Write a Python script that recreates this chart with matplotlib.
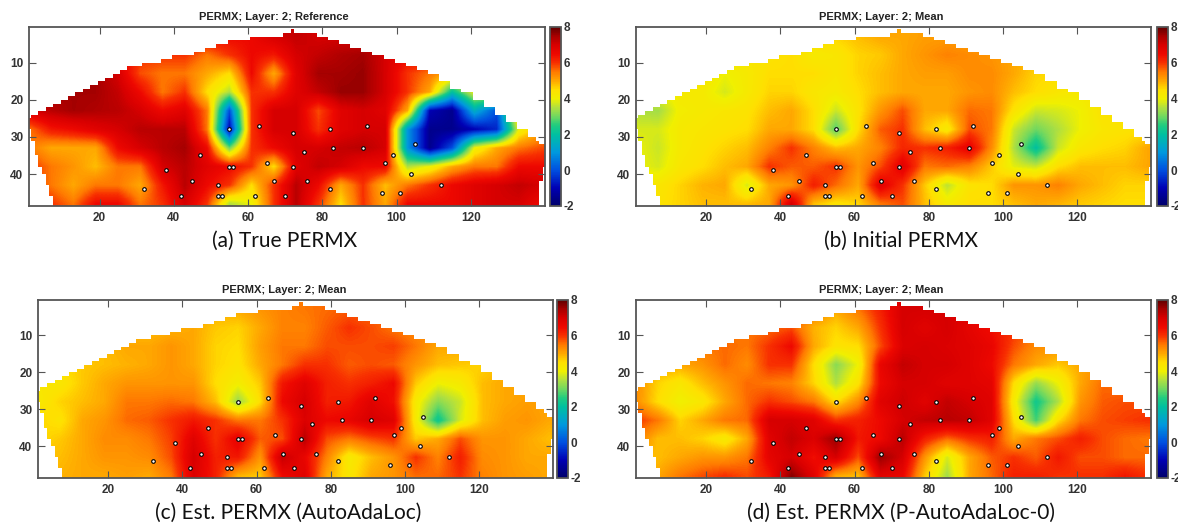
import numpy as np
import matplotlib
matplotlib.use("Agg")
import matplotlib.pyplot as plt
from matplotlib.colors import LinearSegmentedColormap
from matplotlib.patches import Polygon

plt.rcParams['font.family'] = ['Liberation Sans', 'DejaVu Sans']
plt.rcParams['axes.unicode_minus'] = False

W, H = 1178, 529

# grid nodes the permeability values were read at
grid_x = [1, 7, 13, 19, 25, 31, 37, 43, 49, 55, 61, 67, 73, 79, 85, 91, 97, 103, 109, 115, 121, 127, 133, 139]
grid_y = [3, 8, 13, 18, 23, 28, 33, 38, 43, 48]

permx_true = [
    [7, 7, 7, 7, 7, 7, 7, 7, 6.5, 6.5, 6.5, 7, 7.2, 7, 7, 7, 7, 7, 7, 7, 7, 7, 7, 7],
    [7, 7, 7, 7, 6.5, 6, 6, 6, 5.5, 6, 6.5, 6.3, 7, 7.2, 7.4, 7.5, 7, 6.5, 6.5, 6.5, 6.5, 6.5, 6.5, 6.5],
    [7.5, 7.5, 7.5, 7.5, 7, 5.8, 5.5, 5.5, 5, 4.5, 6.5, 5, 6.8, 7.5, 7.5, 7.6, 7, 6, 5.5, 5, 5, 5, 5, 5],
    [7.5, 7.5, 7.5, 7.5, 7.2, 6.5, 5.5, 6, 4.5, 3.5, 6, 6, 6.8, 7.2, 7.6, 7.6, 7, 6, 5, 2, 4, 4.5, 5, 5],
    [7, 7.3, 7.5, 7.4, 7.3, 7, 6.5, 6.8, 5.5, 0, 6, 7, 7, 5.8, 6.8, 7, 6.8, 5, -1, -1.5, 1.5, 0, 5, 5],
    [5.5, 6.3, 6.5, 6.8, 7, 7.3, 7.3, 7.3, 5.5, -1, 6, 7, 7, 6, 6.8, 7, 7, 1, -1.5, -1.5, -1, -0.5, 4, 5],
    [5.5, 5, 5, 5, 6.5, 7, 7.3, 7.5, 6.5, 3, 6, 6.5, 7, 7, 7.2, 7.3, 7, 1, -1.5, 0, 4, 5, 5.5, 5.8],
    [6, 5.5, 5.2, 4.8, 5.5, 5.5, 7, 7.3, 6.8, 6.5, 6, 4.5, 6.8, 7.2, 7, 6.5, 6.5, 3.5, 4, 5, 5.5, 5.5, 6.5, 6.5],
    [6, 5.5, 5, 5.5, 5.5, 5, 6.3, 7.3, 6.5, 6, 4.5, 6, 7.3, 6.5, 5, 6, 4.8, 5.5, 6, 6.5, 6.8, 7, 7.2, 7],
    [6, 6, 5.5, 6.5, 6.5, 5.5, 6, 7, 6, 3.5, 4, 6, 7.3, 6, 4.5, 6, 5, 6.5, 6.5, 6.5, 6.8, 7, 7, 6.5],
]
permx_initial = [
    [4.5, 4.5, 4.5, 4.5, 4.5, 4.5, 4.5, 4.5, 4.5, 4.6, 4.8, 5, 5, 5.1, 5.1, 5, 5, 5, 5, 5, 5, 5, 5, 5],
    [4.3, 4.3, 4.3, 4.3, 4.3, 4.3, 4.4, 4.5, 4.2, 4.3, 4.6, 4.7, 5, 5.2, 5.4, 5.3, 5.2, 5, 4.8, 4.8, 4.8, 4.8, 4.8, 4.8],
    [4.2, 4.2, 4.2, 4.3, 4, 4.2, 4.5, 4.5, 4.5, 4.3, 4.6, 4.8, 5, 5.1, 5.1, 5.3, 5.3, 5, 4.6, 4.5, 4.5, 4.5, 4.5, 4.5],
    [4, 4, 4.2, 4.2, 3.8, 4.2, 4.6, 4.6, 4.3, 4.2, 4.5, 4.8, 5, 5, 5, 5.2, 5.3, 4.8, 4.5, 4.3, 4.2, 4.3, 4.3, 4.3],
    [3.5, 3.4, 4.1, 4.2, 4.3, 4.4, 4.8, 5, 4.5, 3.7, 4.4, 5.2, 5.8, 5, 5, 5.6, 5.5, 4.4, 3.7, 3.8, 4, 4.4, 4.4, 4.4],
    [3.8, 3.8, 4.2, 4.3, 4.4, 4.5, 5, 5, 4.5, 2.8, 4.5, 5.7, 6, 4.8, 4.2, 5.8, 5.5, 3.7, 3, 3.5, 4, 4.3, 4.4, 4.4],
    [4, 3.7, 4.2, 4.4, 4.6, 4.8, 5.4, 6, 5.4, 4.8, 5, 5.4, 6.1, 6, 6.2, 6.7, 5.3, 3.5, 2, 3.7, 4.3, 4.5, 4.6, 5],
    [4, 3.8, 4.3, 4.5, 4.8, 5, 6, 5.7, 5.7, 6, 5.2, 5.8, 6.8, 5.5, 5.6, 5.4, 4.7, 3.9, 3.7, 4.5, 4.8, 4.8, 4.8, 5],
    [4.3, 4.3, 4.6, 4.9, 5, 3.8, 5, 5.2, 6.2, 5.6, 5, 6.8, 6, 4.7, 3.6, 4.4, 4.5, 5.2, 5.2, 5.4, 5, 4.8, 4.6, 4.6],
    [4.4, 4.4, 4.6, 4.8, 4.8, 4.8, 5, 7, 4.8, 4.4, 4.6, 5.5, 5.8, 4.8, 4.2, 4.5, 4.5, 4.8, 5, 4.9, 4.7, 4.6, 4.5, 4.5],
]
permx_ada = [
    [5, 5, 5, 5, 5, 5, 5, 5, 5, 5, 5.2, 5.4, 5.5, 5.6, 5.7, 5.6, 5.5, 5.5, 5.5, 5.5, 5.5, 5.5, 5.5, 5.5],
    [4.8, 4.8, 4.8, 4.8, 4.8, 4.8, 4.9, 5, 4.7, 4.6, 5, 5.4, 5.4, 5.7, 6, 5.8, 5.5, 5.3, 5.2, 5.2, 5.2, 5.2, 5.2, 5.2],
    [4.8, 4.8, 4.8, 4.8, 5, 5, 5.2, 5, 4.6, 4.5, 5.1, 5.5, 5.5, 5.8, 5.8, 5.8, 5.9, 5.5, 5, 5, 5, 5, 5, 5],
    [4.5, 4.5, 4.7, 4.8, 4.9, 5, 5.2, 5, 4.6, 4.4, 5, 5.5, 6, 6, 5.7, 5.8, 5.7, 5.2, 4.8, 4.7, 4.6, 4.8, 4.8, 4.8],
    [4.3, 4.3, 4.7, 5, 5.2, 5.2, 5.2, 5.2, 4.5, 4.1, 4.7, 6.3, 6.8, 6.2, 6, 6.2, 6.5, 4.7, 4, 4.2, 4.8, 5, 5, 5],
    [4.2, 4.6, 4.8, 5, 5.5, 5.5, 5.6, 5.5, 4.8, 3.3, 4.5, 6.5, 7, 6.2, 6.3, 6.8, 6.4, 4.2, 3.2, 3.7, 4.8, 5, 5.1, 5],
    [4.6, 4.4, 5, 5.2, 5.6, 5.7, 6, 6.3, 6, 5.5, 5.5, 6, 6.9, 6.5, 6.6, 7, 6.8, 4.2, 2.2, 3.8, 4.8, 5.1, 5.2, 5],
    [4.5, 4.7, 5, 5.3, 5.3, 5.5, 5.9, 6.8, 6, 6.7, 5.7, 5.8, 7.3, 5.8, 5.5, 5.8, 6, 4.7, 5, 5.8, 5.2, 5.2, 5, 4.8],
    [4.8, 4.8, 5, 5.2, 5.2, 5.3, 5.8, 7, 6.2, 6.3, 5.2, 7.2, 6.6, 5.4, 4.2, 4.8, 5.2, 6, 5.4, 6.2, 5.3, 5.2, 5, 5],
    [4.9, 4.9, 5, 5, 5.1, 5, 5.5, 6.9, 6.2, 4.9, 4.7, 6.5, 6.8, 5, 4.3, 5, 5.2, 5.6, 5.6, 6, 5.4, 5.2, 5.1, 5],
]
permx_p_ada = [
    [6, 6, 6, 6, 6, 6, 6, 6, 5.5, 5, 5.5, 6.2, 7, 7, 7, 6.8, 6.5, 6, 6, 6, 6, 6, 6, 6],
    [5.5, 5.5, 5.5, 5.5, 5.5, 5.5, 5.6, 5.8, 4.9, 4.6, 5, 6, 7, 6.8, 7, 6.7, 6.4, 6, 5.5, 5.5, 5.5, 5.5, 5.5, 5.5],
    [5.2, 5.2, 5.2, 5.5, 5.6, 5.5, 6, 6.5, 5, 4.4, 4.5, 5.8, 6.9, 7, 6.9, 6.8, 6.6, 5.8, 5.3, 5.2, 5.2, 5.2, 5.2, 5.2],
    [5, 5, 5, 5.2, 5.6, 5.3, 6, 6, 4.5, 3.2, 4, 6.6, 7.2, 7, 7, 6.8, 6.5, 5.5, 5, 4.7, 5, 5.2, 5.2, 5.2],
    [5.3, 4.6, 4.3, 4.8, 5.2, 5.6, 5.5, 5.4, 4.6, 3.5, 4.4, 6.5, 7, 7, 6.8, 6.8, 6.7, 4.5, 3.3, 4, 5, 5.6, 5.5, 5.5],
    [5.3, 4.5, 4, 4.3, 5, 5.6, 6, 5.8, 5.5, 4.5, 5.3, 6.8, 7.1, 6.8, 7.2, 7, 6.8, 4.2, 2.3, 3.5, 5.2, 5.7, 5.8, 5.8],
    [6, 5.5, 4.6, 5, 5.5, 5.6, 7, 7, 6.8, 6, 6.2, 6.5, 7, 7.2, 7.3, 7.2, 6.8, 4.5, 2.7, 4.5, 5.5, 5.8, 5.9, 6],
    [5.5, 4.8, 4.8, 4.6, 4.2, 5, 6.8, 7.2, 6.9, 7.6, 6.3, 6.5, 7.3, 6.2, 5.6, 6, 6.2, 5, 5.5, 5.8, 6.2, 5.8, 5.6, 5.5],
    [4.8, 4.8, 5, 5.2, 5.2, 5.5, 6.7, 7, 6.4, 7, 5.8, 7.6, 7, 5.2, 3.8, 5, 5.7, 6, 5.7, 6.3, 5.8, 5.8, 5.6, 5.6],
    [5, 5, 5.5, 5.8, 6, 5.8, 6.3, 7.7, 6.8, 5, 4.8, 6.8, 6.6, 4.7, 3.4, 5, 5.6, 6.2, 6.2, 6, 6, 6, 6.3, 6],
]

# reservoir outline: column start, top edge and bottom edge
edge_x = [1, 2, 3, 4, 5, 6, 7, 8, 10, 12, 14, 16, 18, 20, 22, 24, 26, 28, 30, 32, 34, 37, 40, 43, 46, 49, 52, 55,
          58, 61, 64, 67, 70, 72, 73, 76, 79, 82, 85, 88, 91, 94, 97, 100, 103, 106, 109, 112, 115, 118, 121,
          124, 127, 130, 133, 136, 138, 139, 140]
edge_top = [25, 24, 24, 23, 23, 22, 22, 21, 20, 19, 18, 17, 16, 15, 14, 13, 12, 11, 11, 10, 10, 9, 8, 8, 7, 6, 5, 4,
            4, 3, 3, 3, 2, 1, 2, 2, 3, 4, 5, 6, 7, 8, 9, 10, 11, 12, 13, 15, 17, 18, 20, 22, 24, 26, 28, 30,
            31, 32, 32]
edge_bottom = [28, 31, 35, 38, 40, 43, 46] + [49] * 49 + [49, 42, 38]

well_x = [32, 38, 42, 45, 47, 52, 52, 53, 55, 55, 56, 62, 63, 65, 67, 70,
          72, 72, 75, 76, 82, 82, 83, 91, 92, 96, 97, 99, 101, 104, 105, 112]
well_y = [44, 39, 46, 42, 35, 43, 46, 46, 28, 38, 38, 46, 27, 37, 42, 46,
          29, 38, 34, 42, 28, 44, 33, 33, 27, 45, 37, 35, 45, 40, 32, 43]

x_ticks = [20, 40, 60, 80, 100, 120]
y_ticks = [10, 20, 30, 40]
cbar_ticks = [-2, 0, 2, 4, 6, 8]

titles = ["PERMX; Layer: 2; Reference", "PERMX; Layer: 2; Mean", "PERMX; Layer: 2; Mean", "PERMX; Layer: 2; Mean"]
captions = ["(a) True PERMX", "(b) Initial PERMX", "(c) Est. PERMX (AutoAdaLoc)", "(d) Est. PERMX (P-AutoAdaLoc-0)"]
fields = [permx_true, permx_initial, permx_ada, permx_p_ada]

# pixel layout: axes left/right/top/bottom, colorbar left/right, title x, caption x, caption y
layout = [
    (29, 545, 27, 206, 550, 561, 274, 285, 241),
    (636, 1151, 27, 206, 1157, 1168, 881, 901, 241),
    (38, 553, 300, 478, 557, 568, 284, 288, 513),
    (636, 1151, 300, 478, 1157, 1168, 881, 901, 513),
]

GRAY = "#555555"

# colour stops
stops = [(-2, "#00006a"), (-1, "#0000b4"), (0, "#0050e0"), (1, "#0099dd"), (2, "#00c0a0"), (2.5, "#20cc80"),
         (3, "#70d860"), (3.5, "#b0e040"), (4, "#f0f000"), (4.5, "#ffe000"), (5, "#ffa800"), (5.5, "#ff7a00"),
         (6, "#f83000"), (6.5, "#ee0800"), (7, "#d80000"), (7.5, "#a80000"), (8, "#600000")]
cmap = LinearSegmentedColormap.from_list("permx", [((v + 2) / 10, c) for v, c in stops])


def staircase():
    xs, ys = [], []
    for i, x in enumerate(edge_x):
        x2 = edge_x[i + 1] if i + 1 < len(edge_x) else 141
        xs += [x - 0.5, x2 - 0.5]
        ys += [edge_top[i], edge_top[i]]
    for i in range(len(edge_x) - 1, -1, -1):
        x2 = edge_x[i + 1] if i + 1 < len(edge_x) else 141
        xs += [x2 - 0.5, edge_x[i] - 0.5]
        ys += [edge_bottom[i], edge_bottom[i]]
    return np.column_stack([xs, ys])


fig = plt.figure(figsize=(W / 100, H / 100), dpi=100)

for i in range(4):
    left, right, top, bottom, cb_l, cb_r, title_x, cap_x, cap_y = layout[i]
    ax = fig.add_axes([left / W, 1 - bottom / H, (right - left) / W, (bottom - top) / H])
    im = ax.imshow(np.array(fields[i]), cmap=cmap, vmin=-2, vmax=8, aspect="auto", interpolation="bilinear",
                   extent=(grid_x[0] - 3, grid_x[-1] + 3, grid_y[-1] + 2.5, grid_y[0] - 2.5))
    im.set_clip_path(Polygon(staircase(), closed=True, transform=ax.transData))
    ax.plot(well_x, well_y, linestyle="none", marker="o", ms=2.6, mfc="white", mec="black", mew=0.8)
    ax.set_xlim(1, 140)
    ax.set_ylim(48.6, 0.4)
    ax.set_xticks(x_ticks)
    ax.set_yticks(y_ticks)
    ax.tick_params(direction="in", top=True, right=True, length=5, width=0.8, color=GRAY, labelsize=8.5,
                   labelcolor="#333333", pad=4)
    for lab in ax.get_xticklabels() + ax.get_yticklabels():
        lab.set_fontweight("bold")
    for s in ax.spines.values():
        s.set_color(GRAY)
        s.set_linewidth(1.3)

    cax = fig.add_axes([cb_l / W, 1 - bottom / H, (cb_r - cb_l) / W, (bottom - top) / H])
    cb = fig.colorbar(im, cax=cax)
    cb.set_ticks(cbar_ticks)
    cb.ax.tick_params(length=0, labelsize=8.5, labelcolor="#333333", pad=2)
    for lab in cb.ax.get_yticklabels():
        lab.set_fontweight("bold")
    cb.outline.set_edgecolor(GRAY)
    cb.outline.set_linewidth(1.3)

    fig.text(title_x / W, 1 - (top - 10) / H, titles[i], ha="center", va="center", fontsize=8, fontweight="bold",
             color="#222222")
    fig.text(cap_x / W, 1 - cap_y / H, captions[i], ha="center", va="center", fontsize=15, color="#111111",
             family=["Lato", "DejaVu Sans"])

fig.savefig("out.png", dpi=100)
